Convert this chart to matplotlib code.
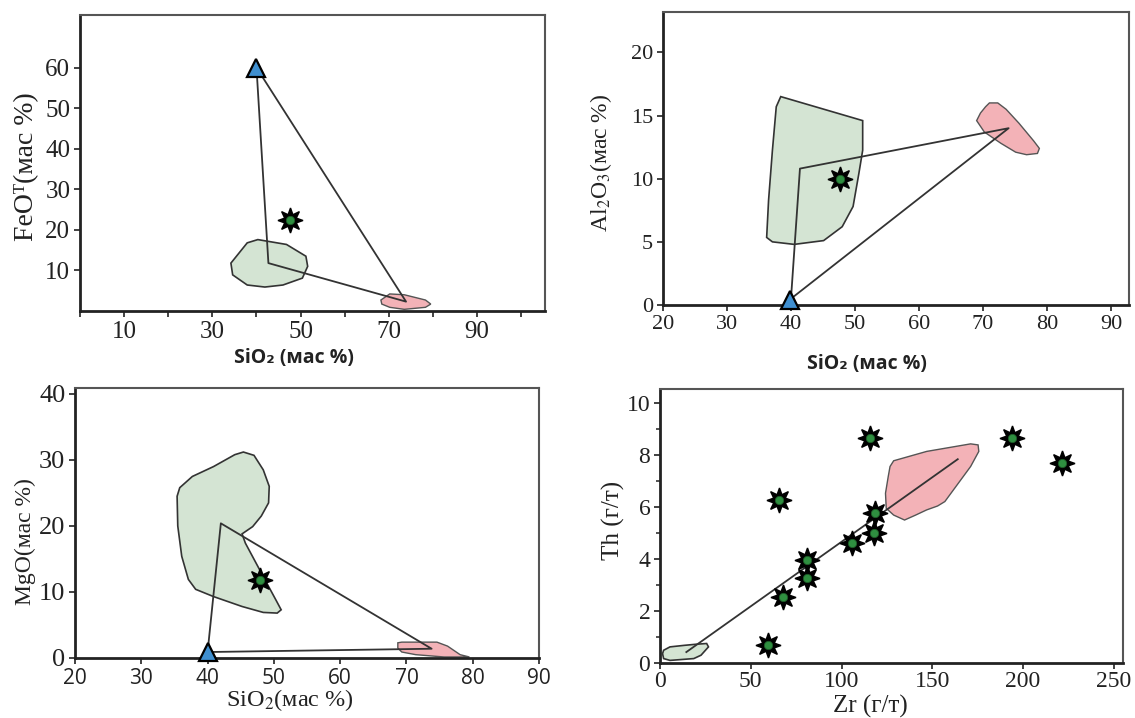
import matplotlib.pyplot as plt

plt.rcParams['mathtext.fontset'] = 'stix'
SERIF = ['Liberation Serif', 'DejaVu Serif', 'DejaVu Sans']
SANS = ['Open Sans', 'DejaVu Sans']

GREEN_FILL = '#d4e4d3'
PINK_FILL = '#f3b2b7'
EDGE = '#333333'
STAR_CORE = '#2f8f40'
TRI_FILL = '#3f8fd0'

# --- panel 1: SiO2 vs FeOT ---
p1_green_x = [34.2, 34.6, 37.9, 41.9, 46.0, 50.4, 51.6, 51.2, 46.8, 40.3, 37.9]
p1_green_y = [11.8, 8.9, 6.4, 5.9, 6.4, 8.1, 11.0, 13.5, 16.4, 17.6, 16.8]
p1_pink_x = [68.2, 70.2, 73.5, 78.3, 79.5, 78.3, 73.5, 70.2, 68.4]
p1_pink_y = [2.7, 4.2, 4.0, 2.7, 1.7, 0.9, 0.4, 0.9, 1.7]
p1_mix_x = [40, 42.7, 73.9, 40]
p1_mix_y = [60, 11.8, 2.3, 60]
p1_tri = (40, 60)
p1_star_x = [47.6]
p1_star_y = [22.4]

# --- panel 2: SiO2 vs Al2O3 ---
p2_green_x = [38.4, 51.2, 51.2, 50.6, 49.7, 48.0, 45.1, 40.5, 37.1, 36.2, 36.5, 37.1, 37.7]
p2_green_y = [16.5, 14.6, 12.25, 10.4, 7.8, 6.2, 5.1, 4.8, 5.0, 5.35, 8.3, 12.25, 15.7]
p2_pink_x = [71.0, 72.3, 73.6, 75.6, 77.9, 78.8, 78.5, 76.8, 75.1, 72.8, 70.2, 69.0, 69.6, 70.4]
p2_pink_y = [16.0, 16.0, 15.5, 14.4, 13.0, 12.4, 12.0, 11.9, 12.1, 12.8, 13.7, 14.6, 15.2, 15.7]
p2_mix_x = [40, 41.4, 74.0, 40]
p2_mix_y = [0.5, 10.8, 14.0, 0.5]
p2_tri = (39.9, 0.4)
p2_star_x = [47.6]
p2_star_y = [10.0]

# --- panel 3: SiO2 vs MgO ---
p3_green_x = [45.4, 47.0, 48.4, 49.3, 49.2, 48.1, 46.8, 45.2, 45.7, 47.3, 48.9, 50.3, 51.1,
              50.5, 48.4, 45.2, 40.9, 38.2, 37.1, 36.1, 35.5, 35.4, 35.8, 37.7, 40.9, 44.1]
p3_green_y = [31.2, 30.7, 28.5, 26.0, 23.5, 21.5, 19.9, 18.8, 17.4, 14.4, 11.4, 8.8, 7.3,
              6.8, 6.9, 7.8, 9.3, 10.4, 11.9, 15.4, 20.0, 24.5, 25.8, 27.5, 29.0, 30.8]
p3_pink_x = [68.7, 69.3, 74.6, 76.2, 78.1, 79.5, 75.7, 71.4, 69.3, 68.7]
p3_pink_y = [2.3, 2.4, 2.4, 1.8, 0.5, 0.15, 0.15, 0.5, 0.9, 1.5]
p3_mix_x = [40, 42.0, 73.8, 40]
p3_mix_y = [0.9, 20.4, 1.4, 0.9]
p3_tri = (40.1, 0.9)
p3_star_x = [47.9]
p3_star_y = [11.8]

# --- panel 4: Zr vs Th ---
p4_green_x = [2.0, 5.5, 13.5, 19.6, 25.7, 26.7, 22.6, 18.6, 5.5, 2.0, 1.4]
p4_green_y = [0.49, 0.62, 0.68, 0.72, 0.75, 0.62, 0.30, 0.17, 0.10, 0.17, 0.36]
p4_pink_x = [128.7, 146.9, 171.1, 175.2, 175.6, 171.1, 163.0, 156.9, 152.9, 146.9, 140.8,
             134.7, 128.7, 124.6, 124.2, 125.7, 126.7]
p4_pink_y = [7.78, 8.14, 8.43, 8.39, 8.14, 7.56, 6.79, 6.21, 6.04, 5.89, 5.69,
             5.50, 5.69, 5.95, 6.53, 7.17, 7.56]
p4_mix_x = [14.5, 164.0]
p4_mix_y = [0.42, 7.84]
p4_star_x = [115.6, 193.7, 221.6, 65.7, 118.6, 117.6, 105.9, 80.8, 81.2, 67.5, 59.4]
p4_star_y = [8.65, 8.65, 7.71, 6.27, 5.76, 4.99, 4.63, 3.96, 3.28, 2.54, 0.68]


def style_axes(ax, size):
    for side in ['left', 'bottom']:
        ax.spines[side].set_linewidth(2.0)
        ax.spines[side].set_color('#222222')
    for side in ['top', 'right']:
        ax.spines[side].set_linewidth(1.5)
        ax.spines[side].set_color('#555555')
    ax.tick_params(direction='out', length=4, width=1.3, color='#333333',
                   labelsize=size, pad=3, labelcolor='#222222')
    for lab in ax.get_xticklabels() + ax.get_yticklabels():
        lab.set_family(SERIF)


def set_labels(ax, xlabel, ylabel, xpos, ypos, xkw, ykw):
    ax.set_xlabel(xlabel, color='#222222', **xkw)
    ax.set_ylabel(ylabel, color='#222222', **ykw)
    ax.xaxis.label.set_va('center')
    ax.yaxis.label.set_va('center')
    ax.xaxis.set_label_coords(*xpos)
    ax.yaxis.set_label_coords(*ypos)


def draw_stars(ax, xs, ys):
    ax.plot(xs, ys, ls='none', marker=(8, 1, 0), ms=18, mfc='black', mec='black',
            mew=1, zorder=5, clip_on=False)
    ax.plot(xs, ys, ls='none', marker='o', ms=6, mfc=STAR_CORE, mec='#1d5a27',
            mew=0.6, zorder=6, clip_on=False)


def draw_fields(ax, gx, gy, px, py):
    ax.fill(gx, gy, facecolor=GREEN_FILL, edgecolor=EDGE, lw=1.2, zorder=1)
    ax.fill(px, py, facecolor=PINK_FILL, edgecolor='#555555', lw=1.0, zorder=1)


def draw_triangle(ax, pt):
    ax.plot([pt[0]], [pt[1]], ls='none', marker='^', ms=13, mfc=TRI_FILL,
            mec='black', mew=1.6, zorder=6, clip_on=False)


fig = plt.figure(figsize=(11.35, 7.18), dpi=100)

# panel 1
ax1 = fig.add_axes([0.0705, 0.5669, 0.4097, 0.4123])
draw_fields(ax1, p1_green_x, p1_green_y, p1_pink_x, p1_pink_y)
ax1.plot(p1_mix_x, p1_mix_y, color=EDGE, lw=1.3, zorder=3)
draw_triangle(ax1, p1_tri)
draw_stars(ax1, p1_star_x, p1_star_y)
ax1.set_xlim(0, 105.4)
ax1.set_ylim(0, 73)
ax1.set_xticks(range(0, 101, 10))
ax1.set_xticklabels(['' if v % 20 == 0 else str(v) for v in range(0, 101, 10)])
ax1.set_yticks(range(10, 61, 10))
style_axes(ax1, 18)
set_labels(ax1, 'SiO₂ (мас %)', 'FeOᵀ(мас %)',
           (0.46, -0.159), (-0.114, 0.486),
           dict(family=SANS, fontweight='bold', fontsize=14),
           dict(family=SERIF, fontsize=20))

# panel 2
ax2 = fig.add_axes([0.5841, 0.5752, 0.4106, 0.4081])
draw_fields(ax2, p2_green_x, p2_green_y, p2_pink_x, p2_pink_y)
ax2.plot(p2_mix_x, p2_mix_y, color=EDGE, lw=1.3, zorder=3)
draw_triangle(ax2, p2_tri)
draw_stars(ax2, p2_star_x, p2_star_y)
ax2.set_xlim(20, 92.8)
ax2.set_ylim(0, 23.2)
ax2.set_xticks(range(20, 91, 10))
ax2.set_yticks(range(0, 21, 5))
style_axes(ax2, 16)
set_labels(ax2, 'SiO₂ (мас %)', 'Al$_2$O$_3$(мас %)',
           (0.438, -0.2), (-0.133, 0.485),
           dict(family=SANS, fontweight='bold', fontsize=14),
           dict(family=SERIF, fontsize=17))

# panel 3
ax3 = fig.add_axes([0.0661, 0.0836, 0.4088, 0.3760])
draw_fields(ax3, p3_green_x, p3_green_y, p3_pink_x, p3_pink_y)
ax3.plot(p3_mix_x, p3_mix_y, color=EDGE, lw=1.3, zorder=3)
draw_triangle(ax3, p3_tri)
draw_stars(ax3, p3_star_x, p3_star_y)
ax3.set_xlim(20, 89.8)
ax3.set_ylim(0, 40.9)
ax3.set_xticks(range(20, 91, 10))
ax3.set_yticks(range(0, 41, 10))
style_axes(ax3, 19)
for lab in ax3.get_xticklabels():
    lab.set_family(SANS)
    lab.set_fontsize(15)
set_labels(ax3, 'SiO$_2$(мас %)', 'MgO(мас %)',
           (0.463, -0.155), (-0.108, 0.43),
           dict(family=SERIF, fontsize=17.5),
           dict(family=SERIF, fontsize=17))

# panel 4
ax4 = fig.add_axes([0.5815, 0.0766, 0.4079, 0.3816])
draw_fields(ax4, p4_green_x, p4_green_y, p4_pink_x, p4_pink_y)
ax4.plot(p4_mix_x, p4_mix_y, color=EDGE, lw=1.3, zorder=3)
draw_stars(ax4, p4_star_x, p4_star_y)
ax4.set_xlim(0, 255)
ax4.set_ylim(0, 10.54)
ax4.set_xticks(range(0, 251, 50))
ax4.set_yticks(range(0, 11, 2))
ax4.set_yticks(range(1, 10, 2), minor=True)
ax4.tick_params(which='minor', direction='out', length=3, width=1.2, color='#333333')
style_axes(ax4, 17)
ax4.tick_params(axis='x', pad=2)
set_labels(ax4, 'Zr (г/т)', 'Th (г/т)',
           (0.455, -0.158), (-0.10, 0.52),
           dict(family=SERIF, fontsize=18),
           dict(family=SERIF, fontsize=18))

fig.savefig('out.png', dpi=100)
